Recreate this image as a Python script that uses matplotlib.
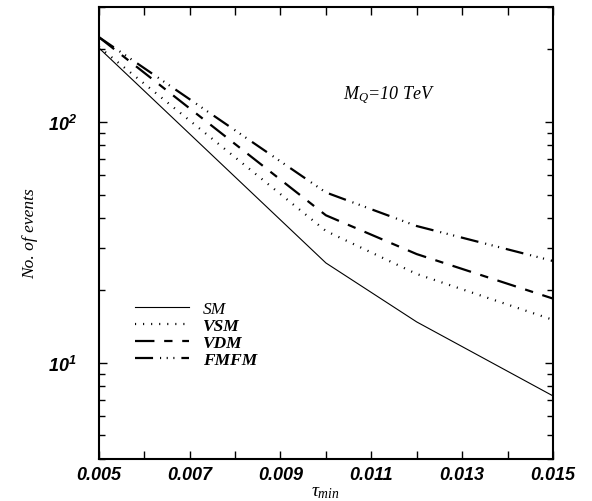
import matplotlib
matplotlib.use("Agg")
import matplotlib.pyplot as plt
from matplotlib.ticker import MultipleLocator, FixedLocator, NullFormatter

plt.rcParams['font.family'] = ['Liberation Serif', 'DejaVu Serif']
plt.rcParams['mathtext.fontset'] = 'custom'
plt.rcParams['mathtext.it'] = 'Liberation Serif:italic'
plt.rcParams['mathtext.rm'] = 'Liberation Serif'
plt.rcParams['mathtext.bf'] = 'Liberation Sans:italic:bold'
plt.rcParams['lines.scale_dashes'] = False

tau_min = [0.005, 0.010, 0.012, 0.015]
sm = [203, 26.0, 14.8, 7.3]
vsm = [205, 35.3, 23.4, 15.1]
vdm = [225, 41.0, 28.3, 18.5]
fmfm = [225, 51.0, 37.0, 26.5]
x_labels = ['0.005', '0.007', '0.009', '0.011', '0.013', '0.015']

fig = plt.figure(figsize=(5.92, 5.02), dpi=100)
ax = fig.add_axes([0.167, 0.084, 0.767, 0.9])

ax.plot(tau_min, sm, color='black', lw=0.8, label='SM')
ax.plot(tau_min, vsm, color='black', lw=1.6, linestyle=(0, (0.8, 5.0)), label='VSM')
ax.plot(tau_min, vdm, color='black', lw=1.6, linestyle=(0, (14, 7, 6, 7)), label='VDM')
ax.plot(tau_min, fmfm, color='black', lw=1.6,
        linestyle=(0, (13, 5, 0.8, 4, 0.8, 4, 0.8, 5)), label='FMFM')

ax.set_yscale('log')
ax.set_xlim(0.005, 0.015)
ax.set_ylim(4.0, 300)

ax.xaxis.set_major_locator(FixedLocator([float(s) for s in x_labels]))
ax.set_xticklabels(x_labels, fontsize=13, fontweight='bold', style='italic',
                   family='Liberation Sans')
ax.xaxis.set_minor_locator(MultipleLocator(0.001))
ax.yaxis.set_minor_formatter(NullFormatter())
ax.set_yticks([10, 100])
ax.set_yticklabels([r'$\mathbf{10^{1}}$', r'$\mathbf{10^{2}}$'], fontsize=13)

ax.tick_params(which='both', direction='in', top=True, right=True, width=1.0)
ax.tick_params(which='major', length=6)
ax.tick_params(which='minor', length=4)
ax.tick_params(axis='x', which='minor', length=6)
ax.tick_params(axis='x', pad=5)
ax.tick_params(axis='y', pad=16)
for s in ax.spines.values():
    s.set_linewidth(1.5)

ax.set_xlabel(r'$\tau_{min}$', fontsize=14, labelpad=0)
ax.set_ylabel('No. of events', fontsize=12.5, style='italic', labelpad=7)

ax.text(0.537, 0.807, r'$M_Q$=10 TeV', transform=ax.transAxes, fontsize=13,
        style='italic', ha='left', va='center')

leg = ax.legend(loc='upper left', bbox_to_anchor=(0.045, 0.385), frameon=False,
                handlelength=3.1, handletextpad=0.8, labelspacing=0.05,
                fontsize=12.5)
for i, t in enumerate(leg.get_texts()):
    t.set_style('italic')
    if i > 0:
        t.set_fontweight('bold')

fig.savefig('out.png', dpi=100)
